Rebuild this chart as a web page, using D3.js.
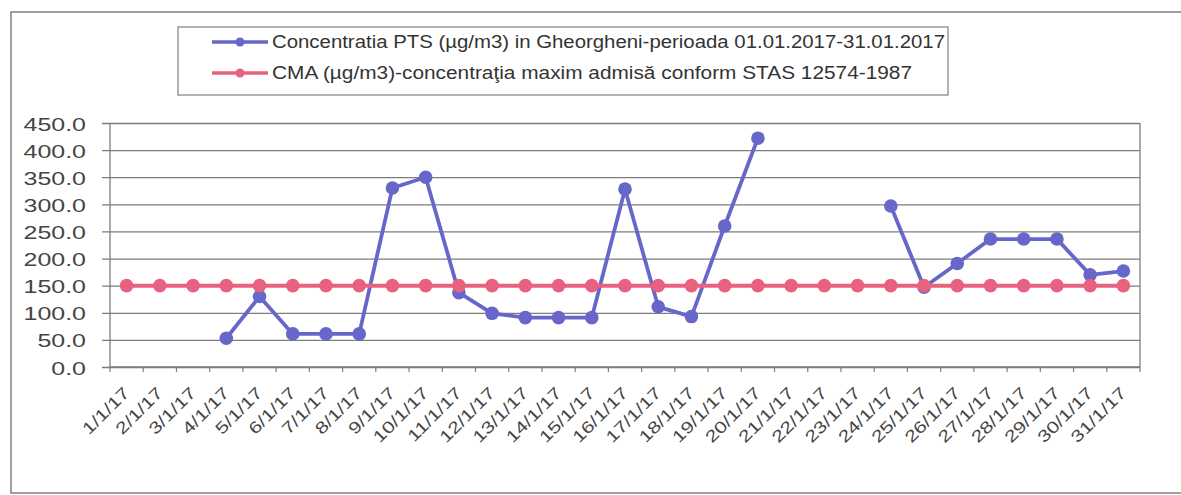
<!DOCTYPE html>
<html>
<head>
<meta charset="utf-8">
<script src="https://cdn.jsdelivr.net/npm/d3@7"></script>
<style>
  body { margin: 0; background: #fff; }
  svg { display: block; font-family: Arial, "Liberation Sans", sans-serif; }
</style>
</head>
<body>
<div id="chart"></div>
<script>
const width = 1181;
const height = 495;

// categories (days of January 2017)
const dates = ["1/1/17", "2/1/17", "3/1/17", "4/1/17", "5/1/17", "6/1/17", "7/1/17", "8/1/17",
    "9/1/17", "10/1/17", "11/1/17", "12/1/17", "13/1/17", "14/1/17", "15/1/17", "16/1/17",
    "17/1/17", "18/1/17", "19/1/17", "20/1/17", "21/1/17", "22/1/17", "23/1/17", "24/1/17",
    "25/1/17", "26/1/17", "27/1/17", "28/1/17", "29/1/17", "30/1/17", "31/1/17"];

// PTS concentration, null = no measurement
const pts = [null, null, null, 53, 130, 61, 61, 61, 330, 350, 137, 99, 91, 91, 91, 328,
    111, 93, 260, 422, null, null, null, 297, 147, 191, 236, 236, 236, 170, 177];

// CMA limit
const cma = [150, 150, 150, 150, 150, 150, 150, 150, 150, 150, 150, 150, 150, 150, 150, 150,
    150, 150, 150, 150, 150, 150, 150, 150, 150, 150, 150, 150, 150, 150, 150];

const yTicks = [0, 50, 100, 150, 200, 250, 300, 350, 400, 450];

const seriesNames = [
    "Concentratia PTS (µg/m3) in Gheorgheni-perioada 01.01.2017-31.01.2017",
    "CMA (µg/m3)-concentraţia maxim admisă conform STAS 12574-1987"
];

const blue = "#6767c9";
const pink = "#e8627f";
const gridColor = "#7d7d7d";
const textColor = "#454545";

const plot = {left: 110, right: 1140, top: 123, bottom: 367};

const svg = d3.select('#chart')
    .append('svg')
    .attr('width', width)
    .attr('height', height);

// outer frame of the chart
svg.append('rect')
    .attr('x', 11)
    .attr('y', 12)
    .attr('width', 1200)
    .attr('height', 481)
    .attr('fill', 'none')
    .attr('stroke', '#808080')
    .attr('stroke-width', 1.5);

const x = d3.scaleBand()
    .domain(dates)
    .range([plot.left, plot.right]);

const y = d3.scaleLinear()
    .domain([0, 450])
    .range([plot.bottom, plot.top]);

// gridlines + y axis
const yAxis = d3.axisLeft(y)
    .tickValues(yTicks)
    .tickFormat(d3.format('.1f'))
    .tickSize(-(plot.right - plot.left))
    .tickPadding(0);

const gy = svg.append('g')
    .attr('transform', `translate(${plot.left},0)`)
    .call(yAxis);
gy.select('.domain').remove();
gy.selectAll('.tick line')
    .attr('x1', -8)
    .attr('stroke', gridColor)
    .attr('stroke-width', 1.3);
gy.selectAll('.tick text')
    .attr('x', null)
    .attr('dy', null)
    .attr('text-anchor', 'end')
    .attr('fill', textColor)
    .attr('font-size', 18.5)
    .attr('transform', 'translate(-24,7) scale(1.35,1)');

// axis lines (left, bottom, right)
svg.append('line')
    .attr('x1', plot.left).attr('x2', plot.left)
    .attr('y1', plot.top).attr('y2', plot.bottom)
    .attr('stroke', gridColor).attr('stroke-width', 1.3);
svg.append('line')
    .attr('x1', plot.right).attr('x2', plot.right)
    .attr('y1', plot.top).attr('y2', plot.bottom)
    .attr('stroke', gridColor).attr('stroke-width', 1.3);
svg.append('line')
    .attr('x1', plot.left).attr('x2', plot.right)
    .attr('y1', plot.bottom).attr('y2', plot.bottom)
    .attr('stroke', gridColor).attr('stroke-width', 1.5);

// x ticks between categories
const bounds = dates.map(d => x(d)).concat([plot.right]);
svg.append('g')
    .selectAll('line')
    .data(bounds)
    .enter().append('line')
    .attr('x1', d => d).attr('x2', d => d)
    .attr('y1', plot.bottom).attr('y2', plot.bottom + 5)
    .attr('stroke', gridColor).attr('stroke-width', 1.2);

// x labels, rotated
svg.append('g')
    .selectAll('text')
    .data(dates)
    .enter().append('text')
    .attr('text-anchor', 'end')
    .attr('fill', textColor)
    .attr('font-size', 16.5)
    .attr('transform', d => `translate(${x(d) + x.bandwidth() / 2 + 4},${plot.bottom + 27}) rotate(-45) scale(1.28,1)`)
    .text(d => d);

const cx = d => x(d) + x.bandwidth() / 2;

function drawSeries(values, color, lw, r) {
    const pts2 = dates.map((d, i) => ({date: d, value: values[i]}));
    const line = d3.line()
        .defined(d => d.value != null)
        .x(d => cx(d.date))
        .y(d => y(d.value));
    svg.append('path')
        .datum(pts2)
        .attr('fill', 'none')
        .attr('stroke', color)
        .attr('stroke-width', lw)
        .attr('stroke-linejoin', 'round')
        .attr('d', line);
    svg.append('g')
        .selectAll('circle')
        .data(pts2.filter(d => d.value != null))
        .enter().append('circle')
        .attr('cx', d => cx(d.date))
        .attr('cy', d => y(d.value))
        .attr('r', r)
        .attr('fill', color);
}

drawSeries(pts, blue, 3.8, 6.8);
drawSeries(cma, pink, 4, 6.8);

// legend
const legend = svg.append('g');
legend.append('rect')
    .attr('x', 178)
    .attr('y', 27)
    .attr('width', 770)
    .attr('height', 68)
    .attr('fill', '#fff')
    .attr('stroke', '#8a8a8a')
    .attr('stroke-width', 1.3);

const legendItems = [
    {name: seriesNames[0], color: blue, y: 42, len: 673},
    {name: seriesNames[1], color: pink, y: 73, len: 640}
];

const li = legend.selectAll('.item')
    .data(legendItems)
    .enter().append('g')
    .attr('class', 'item');

li.append('line')
    .attr('x1', 212).attr('x2', 268)
    .attr('y1', d => d.y).attr('y2', d => d.y)
    .attr('stroke', d => d.color)
    .attr('stroke-width', 3.5);
li.append('circle')
    .attr('cx', 240)
    .attr('cy', d => d.y)
    .attr('r', 4.5)
    .attr('fill', d => d.color);
li.append('text')
    .attr('x', 272)
    .attr('y', d => d.y + 6)
    .attr('fill', '#333')
    .attr('font-size', 17.5)
    .attr('textLength', d => d.len)
    .attr('lengthAdjust', 'spacingAndGlyphs')
    .text(d => d.name);
</script>
</body>
</html>
